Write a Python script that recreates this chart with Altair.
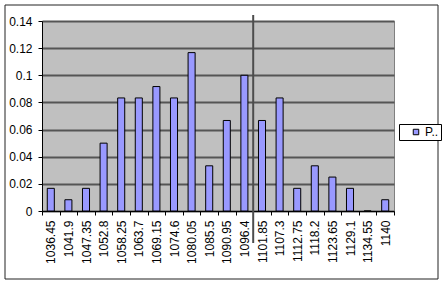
import altair as alt
import pandas as pd

categories = ["1036.45", "1041.9", "1047.35", "1052.8", "1058.25", "1063.7",
              "1069.15", "1074.6", "1080.05", "1085.5", "1090.95", "1096.4",
              "1101.85", "1107.3", "1112.75", "1118.2", "1123.65", "1129.1",
              "1134.55", "1140"]
values = [0.0167, 0.0083, 0.0167, 0.05, 0.0833, 0.0833,
          0.0917, 0.0833, 0.1167, 0.0333, 0.0667, 0.1,
          0.0667, 0.0833, 0.0167, 0.0333, 0.025, 0.0167,
          0.0, 0.0083]
series_name = "P.."
marker_category = ["1101.85"]
y_ticks = [0, 0.02, 0.04, 0.06, 0.08, 0.1, 0.12, 0.14]

df = pd.DataFrame({"bin": categories, "p": values, "series": series_name})
marker_df = pd.DataFrame({"bin": marker_category})
frame_df = pd.DataFrame({"k": [0]})

FONT = "Liberation Sans"

x_enc = alt.X("bin:N", sort=categories,
              scale=alt.Scale(paddingInner=0, paddingOuter=0),
              axis=alt.Axis(title=None, labelAngle=270, labelFontSize=12,
                            labelPadding=5, tickBand="extent", tickSize=4,
                            tickColor="black", domainColor="black",
                            labelColor="black", labelFont=FONT,
                            labelOverlap=False, grid=False))
y_enc = alt.Y("p:Q", scale=alt.Scale(domain=[0, 0.14], nice=False),
              axis=alt.Axis(title=None, values=y_ticks, format="~g",
                            labelFontSize=12, labelFont=FONT, labelColor="black",
                            tickSize=4, tickColor="black", domainColor="black",
                            labelPadding=6, grid=True, gridColor="#555555",
                            gridWidth=2))

frame = alt.Chart(frame_df).mark_rect(fill="transparent", stroke="#222222",
                                      strokeWidth=1).encode(
    x=alt.value(-37), x2=alt.value(396), y=alt.value(-16), y2=alt.value(258))

bars = alt.Chart(df).mark_bar(width=alt.RelativeBandSize(0.4), stroke="black",
                              strokeWidth=1).encode(
    x=x_enc, y=y_enc,
    color=alt.Color("series:N", scale=alt.Scale(range=["#9999FF"]),
                    legend=alt.Legend(title=None, orient="none",
                                      legendX=357, legendY=103,
                                      strokeColor="black", fillColor="white",
                                      padding=2, symbolType="square",
                                      symbolSize=30, symbolStrokeColor="black",
                                      symbolStrokeWidth=1, symbolOffset=9,
                                      labelFontSize=12, labelFont=FONT,
                                      labelColor="black", labelOffset=3))
)

marker = alt.Chart(marker_df).mark_rule(color="#4d4d4d", strokeWidth=2).encode(
    x=alt.X("bin:N", sort=categories, bandPosition=0),
    y=alt.value(-6), y2=alt.value(222))

chart = alt.layer(frame, bars, marker).properties(
    width=352, height=190,
    autosize=alt.AutoSizeParams(type="none"),
    padding={"left": 42, "top": 21, "right": 51, "bottom": 76},
    background="white",
).configure_view(fill="#C0C0C0", stroke="#808080", strokeWidth=1)

chart.save("out.html", embed_options={"renderer": "svg", "actions": False})
